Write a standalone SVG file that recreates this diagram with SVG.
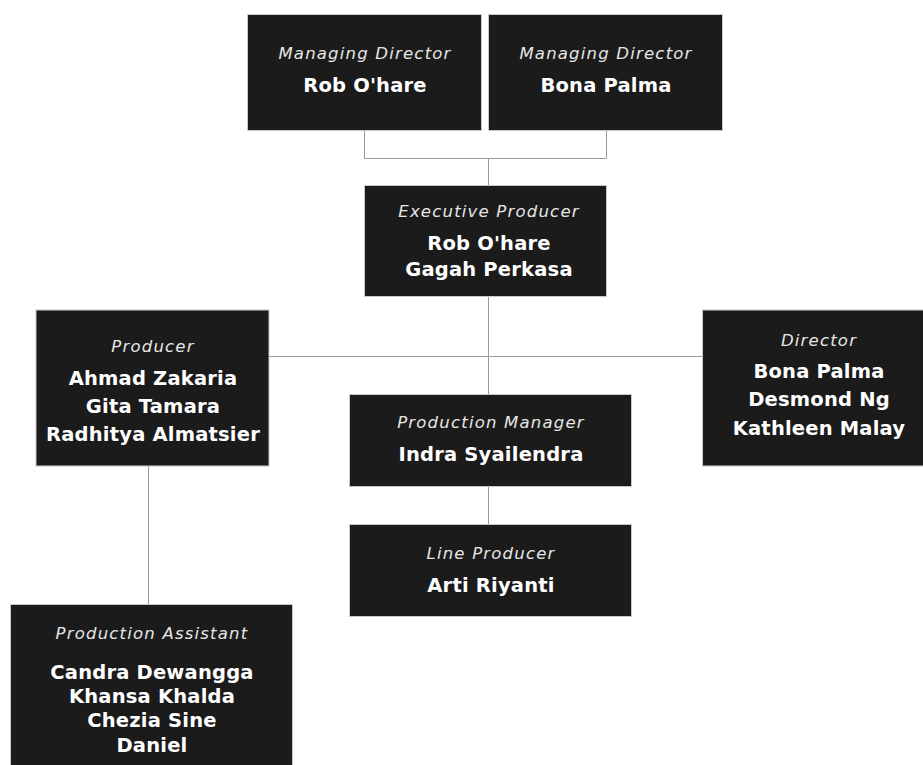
<svg xmlns="http://www.w3.org/2000/svg" width="923" height="765" viewBox="0 0 923 765">
<style>
.box{fill:#1b1b1b;stroke:#c8c8c8;stroke-width:1}
.t{font-family:"DejaVu Sans",sans-serif;font-style:italic;font-size:16.5px;fill:#e6e6e6;text-anchor:middle;letter-spacing:1.2px}
.n{font-family:"DejaVu Sans",sans-serif;font-weight:700;font-size:19.5px;fill:#ffffff;text-anchor:middle;letter-spacing:0.2px}
.c{fill:none;stroke:#9a9a9a;stroke-width:1}
</style>
<rect width="923" height="765" fill="#ffffff"/>
<g id="connectors">
<path class="c" d="M364.5 131V158.5H606.5V131"/>
<path class="c" d="M488.5 158.5V185"/>
<path class="c" d="M488.5 297V394"/>
<path class="c" d="M269 356.5H702"/>
<path class="c" d="M488.5 486V524"/>
<path class="c" d="M148.5 466V604"/>
</g>
<g id="md1">
<rect class="box" x="247.5" y="14.5" width="234" height="116"/>
<text class="t" x="365" y="59">Managing Director</text>
<text class="n" x="365" y="92">Rob O'hare</text>
</g>
<g id="md2">
<rect class="box" x="488.5" y="14.5" width="234" height="116"/>
<text class="t" x="606" y="59">Managing Director</text>
<text class="n" x="606" y="92">Bona Palma</text>
</g>
<g id="ep">
<rect class="box" x="364.5" y="185.5" width="242" height="111"/>
<text class="t" x="489" y="217">Executive Producer</text>
<text class="n" x="489" y="250">Rob O'hare</text>
<text class="n" x="489" y="276">Gagah Perkasa</text>
</g>
<g id="producer">
<rect class="box" x="36" y="310" width="233" height="156"/>
<text class="t" x="153" y="352">Producer</text>
<text class="n" x="153" y="385">Ahmad Zakaria</text>
<text class="n" x="153" y="413">Gita Tamara</text>
<text class="n" x="153" y="441">Radhitya Almatsier</text>
</g>
<g id="director">
<rect class="box" x="702.5" y="310" width="221" height="156"/>
<text class="t" x="819" y="346">Director</text>
<text class="n" x="819" y="378">Bona Palma</text>
<text class="n" x="819" y="406">Desmond Ng</text>
<text class="n" x="819" y="435">Kathleen Malay</text>
</g>
<g id="pm">
<rect class="box" x="349.5" y="394.5" width="282" height="92"/>
<text class="t" x="491" y="428">Production Manager</text>
<text class="n" x="491" y="461">Indra Syailendra</text>
</g>
<g id="lp">
<rect class="box" x="349.5" y="524.5" width="282" height="92"/>
<text class="t" x="491" y="559">Line Producer</text>
<text class="n" x="491" y="592">Arti Riyanti</text>
</g>
<g id="pa">
<rect class="box" x="10.5" y="604.5" width="282" height="170"/>
<text class="t" x="152" y="639">Production Assistant</text>
<text class="n" x="152" y="679">Candra Dewangga</text>
<text class="n" x="152" y="703">Khansa Khalda</text>
<text class="n" x="152" y="727">Chezia Sine</text>
<text class="n" x="152" y="752">Daniel</text>
</g>
</svg>
